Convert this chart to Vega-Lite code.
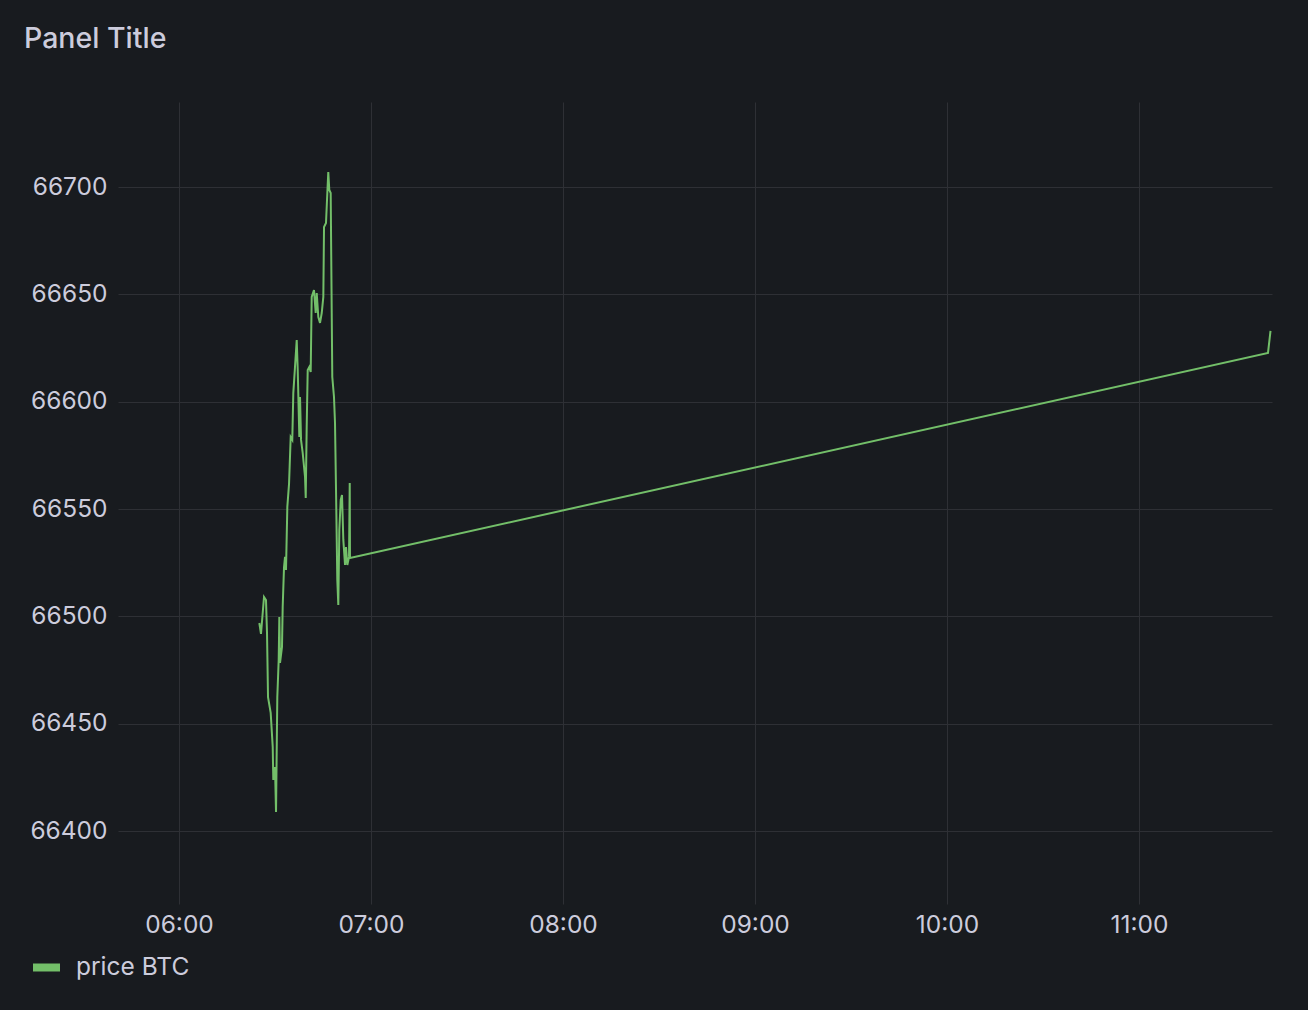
{
  "$schema": "https://vega.github.io/schema/vega-lite/v6.json",
  "width": 1154,
  "height": 802,
  "autosize": {"type": "none"},
  "padding": {"left": 118, "top": 102, "right": 36, "bottom": 106},
  "background": "#181b1f",
  "title": {
    "text": "Panel Title",
    "anchor": "start",
    "frame": "group",
    "orient": "top",
    "baseline": "alphabetic",
    "offset": 26,
    "dx": -94,
    "font": "Inter",
    "fontSize": 28.5,
    "fontWeight": 500,
    "color": "#ccccdc"
  },
  "config": {
    "view": {"stroke": null},
    "font": "Inter"
  },
  "data": {
    "format": {"parse": {"time": "utc:'%Y-%m-%dT%H:%M:%S'"}},
    "values": [
      {"time": "2024-04-10T06:25:06", "price": 66496.9},
      {"time": "2024-04-10T06:25:37", "price": 66491.8},
      {"time": "2024-04-10T06:26:34", "price": 66509.0},
      {"time": "2024-04-10T06:27:11", "price": 66507.6},
      {"time": "2024-04-10T06:27:30", "price": 66492.3},
      {"time": "2024-04-10T06:27:49", "price": 66462.4},
      {"time": "2024-04-10T06:28:39", "price": 66455.0},
      {"time": "2024-04-10T06:29:17", "price": 66439.2},
      {"time": "2024-04-10T06:29:28", "price": 66423.8},
      {"time": "2024-04-10T06:30:00", "price": 66429.8},
      {"time": "2024-04-10T06:30:19", "price": 66408.9},
      {"time": "2024-04-10T06:30:43", "price": 66462.4},
      {"time": "2024-04-10T06:31:09", "price": 66479.7},
      {"time": "2024-04-10T06:31:21", "price": 66499.7},
      {"time": "2024-04-10T06:31:34", "price": 66478.3},
      {"time": "2024-04-10T06:32:11", "price": 66485.7},
      {"time": "2024-04-10T06:32:24", "price": 66504.4},
      {"time": "2024-04-10T06:32:49", "price": 66523.0},
      {"time": "2024-04-10T06:33:08", "price": 66527.7},
      {"time": "2024-04-10T06:33:26", "price": 66521.6},
      {"time": "2024-04-10T06:33:51", "price": 66551.0},
      {"time": "2024-04-10T06:34:23", "price": 66561.7},
      {"time": "2024-04-10T06:34:54", "price": 66583.5},
      {"time": "2024-04-10T06:35:24", "price": 66582.2},
      {"time": "2024-04-10T06:35:43", "price": 66604.0},
      {"time": "2024-04-10T06:36:15", "price": 66616.2},
      {"time": "2024-04-10T06:36:47", "price": 66628.7},
      {"time": "2024-04-10T06:37:06", "price": 66614.8},
      {"time": "2024-04-10T06:37:36", "price": 66583.5},
      {"time": "2024-04-10T06:37:49", "price": 66602.2},
      {"time": "2024-04-10T06:38:08", "price": 66582.2},
      {"time": "2024-04-10T06:38:39", "price": 66576.1},
      {"time": "2024-04-10T06:39:23", "price": 66564.9},
      {"time": "2024-04-10T06:39:36", "price": 66555.1},
      {"time": "2024-04-10T06:39:54", "price": 66588.2},
      {"time": "2024-04-10T06:40:13", "price": 66614.8},
      {"time": "2024-04-10T06:40:43", "price": 66616.2},
      {"time": "2024-04-10T06:41:09", "price": 66613.8},
      {"time": "2024-04-10T06:41:28", "price": 66648.8},
      {"time": "2024-04-10T06:42:11", "price": 66652.0},
      {"time": "2024-04-10T06:42:43", "price": 66641.3},
      {"time": "2024-04-10T06:43:02", "price": 66650.6},
      {"time": "2024-04-10T06:43:32", "price": 66639.4},
      {"time": "2024-04-10T06:44:04", "price": 66636.7},
      {"time": "2024-04-10T06:44:36", "price": 66641.3},
      {"time": "2024-04-10T06:45:06", "price": 66648.8},
      {"time": "2024-04-10T06:45:19", "price": 66681.4},
      {"time": "2024-04-10T06:45:56", "price": 66683.2},
      {"time": "2024-04-10T06:46:21", "price": 66697.2},
      {"time": "2024-04-10T06:46:39", "price": 66707.0},
      {"time": "2024-04-10T06:46:58", "price": 66698.6},
      {"time": "2024-04-10T06:47:24", "price": 66697.2},
      {"time": "2024-04-10T06:47:36", "price": 66662.7},
      {"time": "2024-04-10T06:47:54", "price": 66611.5},
      {"time": "2024-04-10T06:48:26", "price": 66602.2},
      {"time": "2024-04-10T06:48:45", "price": 66590.1},
      {"time": "2024-04-10T06:49:04", "price": 66558.9},
      {"time": "2024-04-10T06:49:28", "price": 66516.9},
      {"time": "2024-04-10T06:49:47", "price": 66505.3},
      {"time": "2024-04-10T06:50:06", "price": 66540.2},
      {"time": "2024-04-10T06:50:32", "price": 66554.2},
      {"time": "2024-04-10T06:50:56", "price": 66556.5},
      {"time": "2024-04-10T06:51:21", "price": 66535.6},
      {"time": "2024-04-10T06:51:53", "price": 66523.9},
      {"time": "2024-04-10T06:52:11", "price": 66532.3},
      {"time": "2024-04-10T06:52:36", "price": 66523.9},
      {"time": "2024-04-10T06:53:08", "price": 66527.7},
      {"time": "2024-04-10T06:53:21", "price": 66562.1},
      {"time": "2024-04-10T06:53:26", "price": 66527.2},
      {"time": "2024-04-10T11:40:19", "price": 66622.7},
      {"time": "2024-04-10T11:41:06", "price": 66633.0}
    ]
  },
  "mark": {"type": "line", "strokeWidth": 2, "interpolate": "linear"},
  "encoding": {
    "x": {
      "field": "time",
      "type": "temporal",
      "scale": {
        "type": "utc",
        "domain": [
          {"utc": true, "year": 2024, "month": 4, "date": 10, "hours": 5, "minutes": 40, "seconds": 56},
          {"utc": true, "year": 2024, "month": 4, "date": 10, "hours": 11, "minutes": 41, "seconds": 34}
        ],
        "nice": false
      },
      "axis": {
        "title": null,
        "format": "%H:%M",
        "tickCount": 6,
        "domain": false,
        "ticks": false,
        "labelFont": "Inter",
        "labelFontSize": 24.5,
        "labelColor": "#ccccdc",
        "labelPadding": 9,
        "grid": true,
        "gridColor": "#2e3035",
        "gridWidth": 1
      }
    },
    "y": {
      "field": "price",
      "type": "quantitative",
      "scale": {"domain": [66366, 66739.6], "nice": false, "zero": false},
      "axis": {
        "title": null,
        "values": [66400, 66450, 66500, 66550, 66600, 66650, 66700],
        "format": "d",
        "domain": false,
        "ticks": false,
        "labelFont": "Inter",
        "labelFontSize": 24.5,
        "labelColor": "#ccccdc",
        "labelPadding": 11,
        "grid": true,
        "gridColor": "#2e3035",
        "gridWidth": 1
      }
    },
    "color": {
      "datum": "price BTC",
      "type": "nominal",
      "scale": {"range": ["#73bf69"]},
      "legend": {
        "title": null,
        "orient": "none",
        "legendX": -89,
        "legendY": 848,
        "symbolType": "stroke",
        "symbolSize": 729,
        "symbolStrokeWidth": 8,
        "labelFont": "Inter",
        "labelFontSize": 24.5,
        "labelColor": "#ccccdc",
        "labelOffset": 12
      }
    }
  }
}
